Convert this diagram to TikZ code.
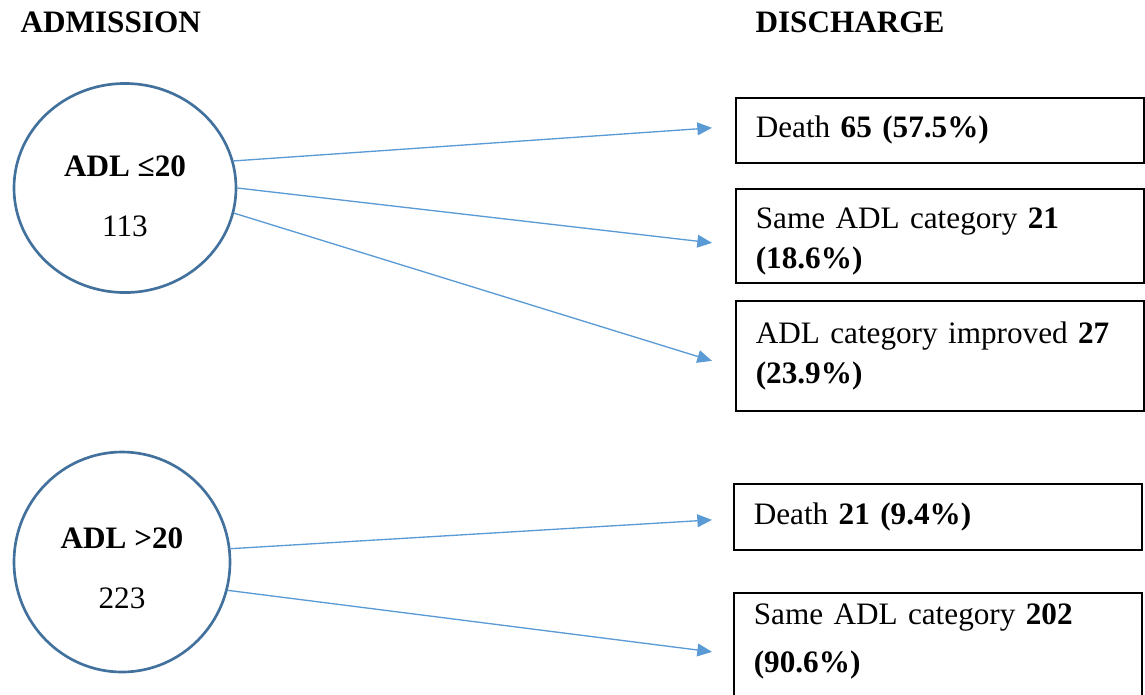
\documentclass[tikz,border=0pt]{standalone}
\usepackage{fontspec}
\setmainfont{Liberation Serif}
\usetikzlibrary{shapes.geometric,arrows.meta}
\definecolor{ringblue}{HTML}{41719C}
\definecolor{flowblue}{HTML}{5B9BD5}

\begin{document}
\begin{tikzpicture}[x=0.375pt,y=-0.375pt,font=\fontsize{11.7pt}{15pt}\selectfont]
    \tikzset{admit/.style={draw=ringblue,line width=1pt,ellipse,align=center,inner sep=0pt,text depth=0pt},
    outcome/.style={draw,line width=0.6pt,rectangle,align=left,anchor=north west,
        text width=138pt,inner xsep=7.5pt,inner ysep=0pt},
    flow/.style={draw=flowblue,line width=0.5pt,-{Triangle[length=5.5pt,width=4.8pt]}},
    heading/.style={anchor=west,inner sep=0pt,font=\fontsize{11.7pt}{15pt}\selectfont\bfseries}}
    \clip (0,0) rectangle (1145,694);
    % column titles
    \node[heading] (adm) at (20,22) {ADMISSION};
    \node[heading] (dis) at (755,22) {DISCHARGE};
    % admission groups
    \node[admit,minimum width=83.25pt,minimum height=78.4pt,text height=36pt] (low) at (125,188)
        {\textbf{ADL ≤20}\\[7.5pt]113};
    \node[admit,minimum width=81pt,minimum height=82.5pt,text height=34.5pt] (high) at (122,562)
        {\textbf{ADL >20}\\[7.5pt]223};
    % discharge outcomes
    \node[outcome,minimum height=24.4pt] (d1) at (735,97) {Death \textbf{65 (57.5\%)}};
    \node[outcome,minimum height=35.3pt,text height=11.8pt] (d2) at (735,188)
        {Same ADL category \textbf{21}\\\textbf{(18.6\%)}};
    \node[outcome,minimum height=41.3pt] (d3) at (735,300)
        {ADL category improved \textbf{27}\\\textbf{(23.9\%)}};
    \node[outcome,minimum height=24.8pt] (d4) at (733,483) {Death \textbf{21 (9.4\%)}};
    \node[outcome,inner ysep=4pt,text depth=30pt] (d5) at (733,592)
        {Same ADL category \textbf{202}\\[3pt]\textbf{(90.6\%)}};
    % arrows
    \draw[flow] (low.14) -- ([shift={(-23,-2.5)}]d1.west);
    \draw[flow] (low.0) -- ([shift={(-23,7)}]d2.west);
    \draw[flow] (low.-13) -- ([shift={(-23,5)}]d3.west);
    \draw[flow] (high.7) -- ([shift={(-21,3)}]d4.west);
    \draw[flow] (high.-15) -- ([shift={(-21,-2)}]d5.west);
\end{tikzpicture}
\end{document}
